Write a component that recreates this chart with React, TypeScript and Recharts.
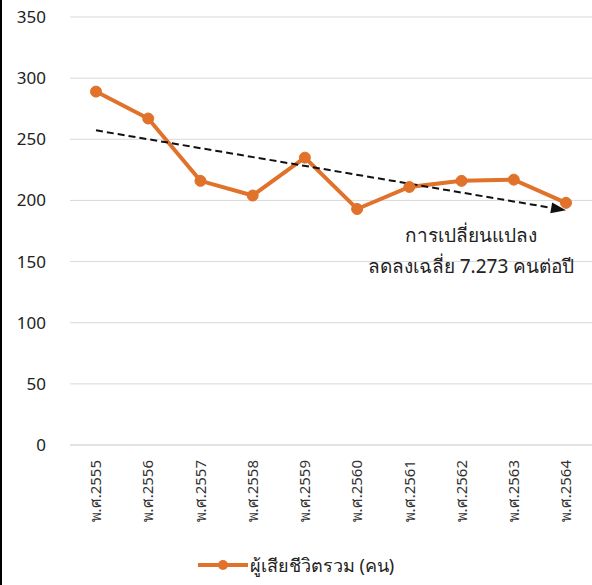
import {
	CartesianGrid,
	Legend,
	Line,
	LineChart,
	ReferenceLine,
	XAxis,
	YAxis,
} from 'recharts'

const years = [
	'พ.ศ.2555',
	'พ.ศ.2556',
	'พ.ศ.2557',
	'พ.ศ.2558',
	'พ.ศ.2559',
	'พ.ศ.2560',
	'พ.ศ.2561',
	'พ.ศ.2562',
	'พ.ศ.2563',
	'พ.ศ.2564',
]
const deaths = [289, 267, 216, 204, 235, 193, 211, 216, 217, 198]
const yTicks = [0, 50, 100, 150, 200, 250, 300, 350]
// trend line end values (linear, -7.273 per year)
const trendStart = 257.3
const trendEnd = 191.9

const seriesName = 'ผู้เสียชีวิตรวม (คน)'
const noteLines = ['การเปลี่ยนแปลง', 'ลดลงเฉลี่ย 7.273 คนต่อปี']

const ORANGE = '#E0722B'
const FONT = '"Noto Sans", "DejaVu Sans", sans-serif'

const data = years.map((year, i) => ({ year, deaths: deaths[i] }))

const YearTick = (props: any) => {
	const { x, y, payload } = props
	return (
		<text
			x={x}
			y={y}
			transform={`rotate(-90, ${x}, ${y})`}
			textAnchor='end'
			dy='0.35em'
			fontSize={15}
			fill='#333'
			fontFamily={FONT}
		>
			{payload.value}
		</text>
	)
}

const TrendArrow = (props: any) => {
	const { x1, y1, x2, y2 } = props
	const dx = x2 - x1
	const dy = y2 - y1
	const len = Math.sqrt(dx * dx + dy * dy)
	const ux = dx / len
	const uy = dy / len
	const head = 15
	const half = 5.5
	const bx = x2 - ux * head
	const by = y2 - uy * head
	return (
		<g>
			<line
				x1={x1}
				y1={y1}
				x2={bx}
				y2={by}
				stroke='#111'
				strokeWidth={2}
				strokeDasharray='7 4'
			/>
			<polygon
				points={`${x2},${y2} ${bx - uy * half},${by + ux * half} ${bx + uy * half},${by - ux * half}`}
				fill='#111'
			/>
		</g>
	)
}

const LegendContent = () => (
	<div
		style={{
			display: 'flex',
			justifyContent: 'center',
			alignItems: 'center',
			height: 45,
			paddingTop: 5,
			boxSizing: 'border-box',
			fontFamily: FONT,
			fontSize: 18,
			color: '#222',
		}}
	>
		<svg width={50} height={14} style={{ marginRight: 2 }}>
			<line x1={0} y1={7} x2={50} y2={7} stroke={ORANGE} strokeWidth={4} />
			<circle cx={25} cy={7} r={5} fill={ORANGE} />
		</svg>
		<span>{seriesName}</span>
	</div>
)

export default function App() {
	return (
		<div
			style={{
				position: 'absolute',
				left: 0,
				top: 0,
				width: 592,
				height: 585,
				background: '#fff',
				overflow: 'hidden',
			}}
		>
			<div
				style={{
					position: 'absolute',
					left: 0,
					top: 0,
					width: 2,
					height: 585,
					background: '#000',
				}}
			/>
			<LineChart
				width={592}
				height={585}
				data={data}
				margin={{ top: 17, right: 0, left: 0, bottom: 0 }}
			>
				<CartesianGrid vertical={false} stroke='#d9d9d9' strokeWidth={1} />
				<XAxis
					dataKey='year'
					interval={0}
					height={95}
					padding={{ left: 26, right: 26 }}
					tickLine={false}
					axisLine={{ stroke: '#d9d9d9' }}
					tickSize={0}
					tickMargin={15}
					tick={<YearTick />}
				/>
				<YAxis
					domain={[0, 350]}
					ticks={yTicks}
					width={70}
					tickLine={false}
					axisLine={false}
					tickSize={0}
					tickMargin={24}
					tick={{ fontSize: 17, fill: '#222', fontFamily: FONT }}
				/>
				<Legend verticalAlign='bottom' content={<LegendContent />} />
				<Line
					type='linear'
					dataKey='deaths'
					name={seriesName}
					stroke={ORANGE}
					strokeWidth={4}
					dot={{ r: 5.5, fill: ORANGE, stroke: ORANGE, strokeWidth: 1 }}
					activeDot={false}
					isAnimationActive={false}
				/>
				<ReferenceLine
					segment={[
						{ x: years[0], y: trendStart },
						{ x: years[years.length - 1], y: trendEnd },
					]}
					shape={<TrendArrow />}
				/>
			</LineChart>
			<div
				style={{
					position: 'absolute',
					left: 351,
					top: 220,
					width: 240,
					textAlign: 'center',
					fontFamily: FONT,
					fontSize: 19,
					lineHeight: '31px',
					color: '#222',
				}}
			>
				{noteLines.map(l => (
					<div key={l}>{l}</div>
				))}
			</div>
		</div>
	)
}
